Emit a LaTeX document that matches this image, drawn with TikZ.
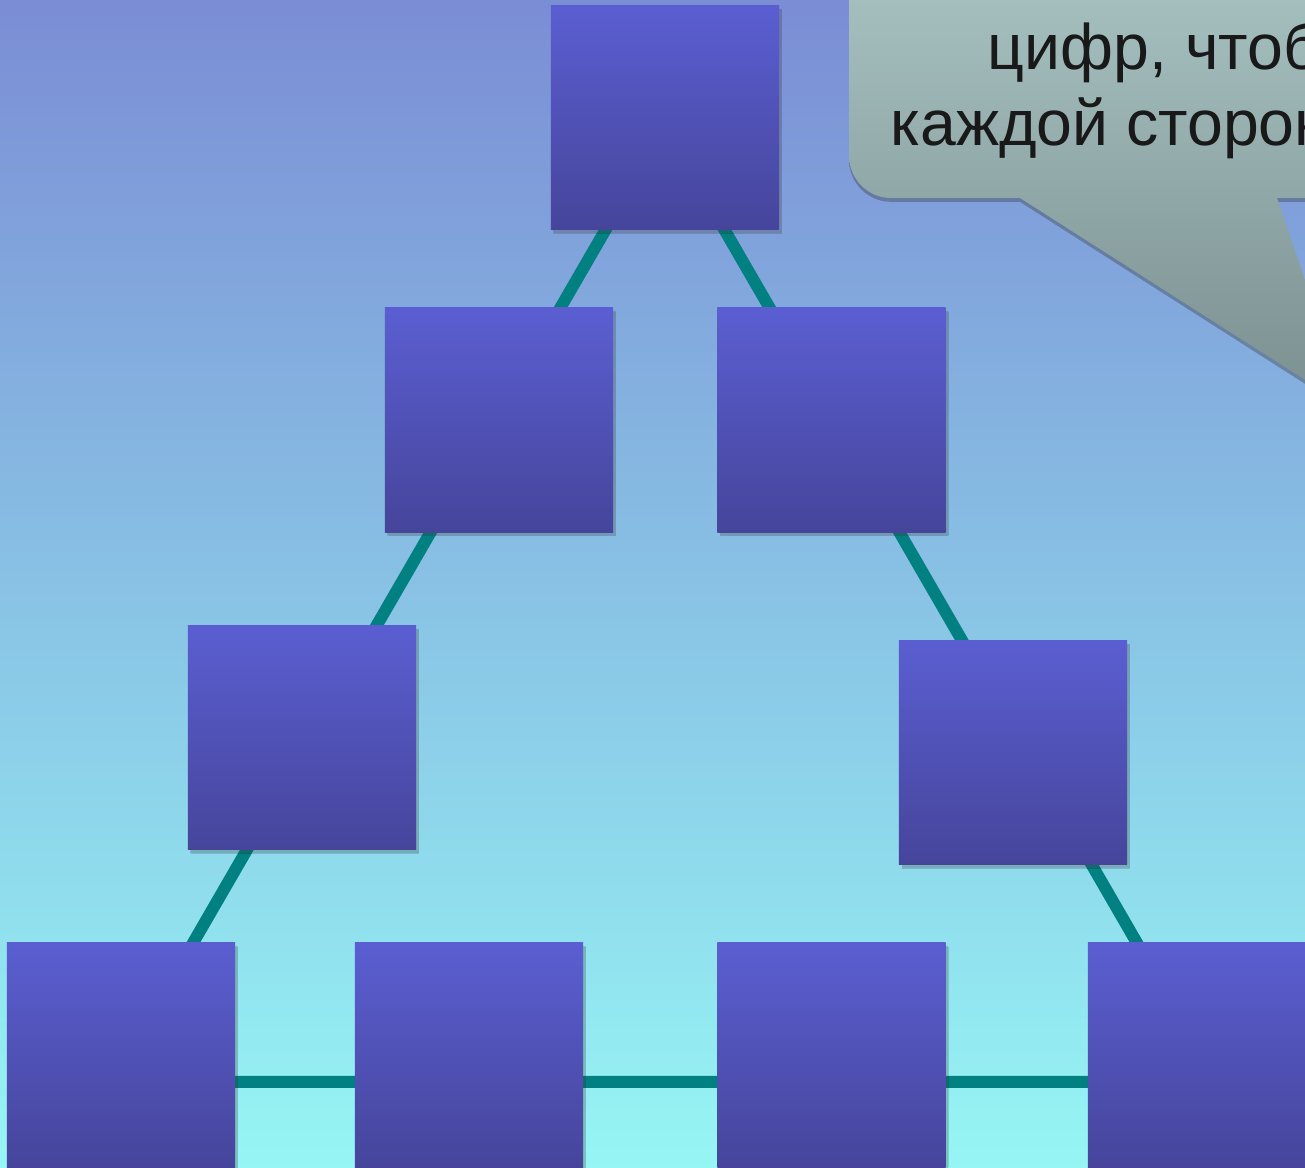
\documentclass[tikz,border=0pt]{standalone}
\usepackage{fontspec}
\setmainfont{Liberation Sans}
\usetikzlibrary{calc,shadows}
\definecolor{bgtop}{HTML}{7B8DD5}
\definecolor{bgbot}{HTML}{96F6F4}
\definecolor{celltop}{HTML}{5B5ED1}
\definecolor{cellbot}{HTML}{46459B}
\definecolor{rimteal}{HTML}{008080}
\definecolor{bubtop}{HTML}{ACC7C7}
\definecolor{bubbot}{HTML}{7B8F8F}

\begin{document}
\begin{tikzpicture}%
  [x=0.01cm, y=-0.01cm,
   cell/.style={rectangle, minimum width=2.28cm, minimum height=2.24cm,
     inner sep=0pt, top color=celltop, bottom color=cellbot,
     drop shadow={shadow xshift=0.8pt, shadow yshift=-1.1pt,
       top color=black, bottom color=black, opacity=0.15}},
   rim/.style={draw=rimteal, line width=0.12cm},
   bubble/.style={top color=bubtop, bottom color=bubbot,
     drop shadow={shadow xshift=0pt, shadow yshift=-1.1pt,
       top color=black, bottom color=black, opacity=0.2}},
   words/.style={anchor=base west, inner sep=0pt, text=black!90,
     font=\fontsize{18.3}{22}\selectfont}]

  \useasboundingbox (0,0) rectangle (1305,1168);
  \clip (0,0) rectangle (1305,1168);
  \fill[top color=bgtop, bottom color=bgbot] (0,0) rectangle (1305,1168);

  \coordinate (apex) at (665,127);
  \coordinate (foot1) at (112.6,1082);
  \coordinate (foot2) at (1217.4,1082);
  \draw[rim] (apex) -- (foot1) -- (foot2) -- cycle;

  \node (T) at (665,117.5) [cell] {};
  \node (L1) at (499,420) [cell] {};
  \node (R1) at (831.5,420) [cell] {};
  \node (L2) at (302,737.5) [cell] {};
  \node (R2) at (1013,752.5) [cell] {};
  \node (B1) at (121,1055) [cell] {};
  \node (B2) at (469,1055) [cell] {};
  \node (B3) at (831.5,1055) [cell] {};
  \node (B4) at (1202,1055) [cell] {};

  \path[bubble] (849,-80) -- (849,156)
        .. controls (849,179) and (868,198) .. (891,198)
        -- (1020,198) -- (1349,408) -- (1277,198)
        -- (1420,198) -- (1420,-80) -- cycle;

  \node (line1) at (987,70) [words] {цифр, чтоб};
  \node (line2) at (890,146) [words] {каждой сторон};

\end{tikzpicture}
\end{document}
